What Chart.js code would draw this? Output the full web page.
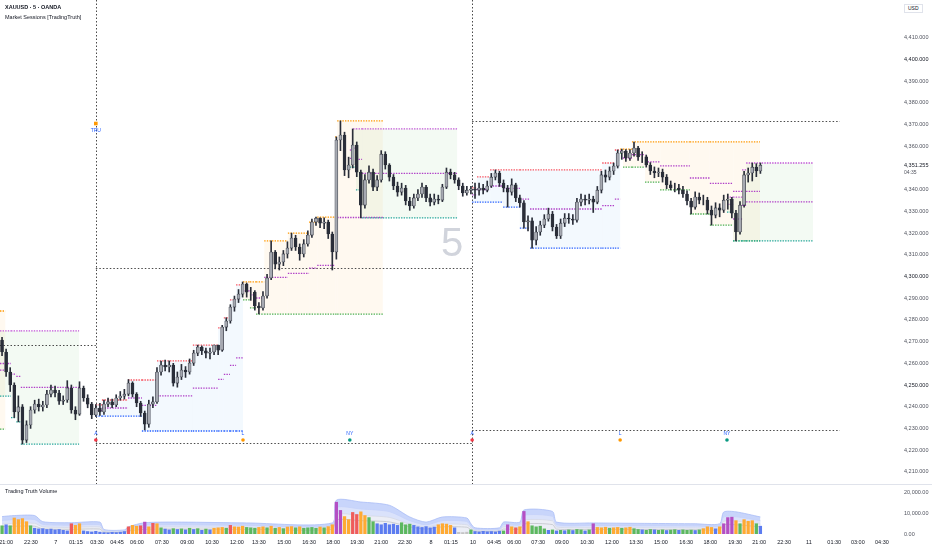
<!DOCTYPE html>
<html>
<head>
<meta charset="utf-8">
<script src="https://cdn.jsdelivr.net/npm/chart.js@4.4.1/dist/chart.umd.min.js"></script>
<style>
  html, body { margin: 0; padding: 0; background: #fff; }
  #wrap { position: relative; width: 932px; height: 550px; overflow: hidden; font-family: "Liberation Sans", "DejaVu Sans", sans-serif; }
  canvas { position: absolute; left: 0; }
  #price { top: 0; }
  #vol { top: 484px; }
  .txt { position: absolute; white-space: nowrap; color: #131722; line-height: 1; }
  #sep { position: absolute; left: 0; top: 484px; width: 932px; height: 1px; background: #e0e3eb; }
</style>
</head>
<body>
<div id="wrap">
  <canvas id="price" width="932" height="484"></canvas>
  <div id="sep"></div>
  <canvas id="vol" width="932" height="66"></canvas>
  <div class="txt" style="left:5px;top:5px;font-size:5.5px;font-weight:bold;">XAUUSD · 5 · OANDA</div>
  <div class="txt" style="left:5px;top:15px;font-size:5.5px;">Market Sessions [TradingTruth]</div>
  <div class="txt" style="left:5px;top:489px;font-size:5.5px;">Trading Truth Volume</div>
  <div class="txt" style="left:904px;top:4px;font-size:5px;padding:1px 3px;border:1px solid #e0e3eb;background:#fff;">USD</div>
  <div class="txt" style="left:441px;top:222px;font-size:40px;color:#d1d4dc;font-family:'Liberation Sans Narrow','Liberation Sans',sans-serif;">5</div>
</div>
<script>
// 15-minute bars, index 0 = first bar on the left edge
const firstOpen = 4270.7;
const closes = [
  4265.2, 4256.0, 4250.0, 4237.6, 4239.9, 4224.6, 4231.6, 4238.5, 4241.2, 4239.9,
  4240.8, 4245.8, 4247.7, 4246.3, 4242.6, 4243.1, 4248.6, 4238.5, 4236.6, 4248.6,
  4244.0, 4241.2, 4236.2, 4239.4, 4237.6, 4241.2, 4242.2, 4240.8, 4244.0, 4244.9,
  4245.8, 4250.9, 4245.8, 4241.7, 4237.1, 4232.0, 4241.2, 4242.2, 4256.0, 4259.2,
  4258.3, 4259.2, 4250.9, 4253.7, 4256.9, 4256.0, 4260.1, 4264.7, 4267.5, 4265.7,
  4264.7, 4265.2, 4268.4, 4266.1, 4276.7, 4279.5, 4285.9, 4289.6, 4291.9, 4296.5,
  4292.8, 4292.8, 4286.4, 4285.5, 4291.0, 4299.3, 4311.3, 4305.7, 4306.7, 4310.4,
  4313.1, 4317.7, 4313.6, 4310.4, 4315.0, 4319.1, 4325.1, 4326.9, 4324.6, 4325.1,
  4319.6, 4311.3, 4362.9, 4365.2, 4349.1, 4351.4, 4360.6, 4348.1, 4332.9, 4344.5,
  4348.1, 4341.2, 4344.5, 4356.4, 4351.4, 4345.8, 4341.7, 4338.9, 4340.8, 4334.8,
  4332.5, 4336.2, 4338.0, 4341.2, 4336.2, 4334.3, 4335.7, 4335.2, 4341.2, 4348.1,
  4346.8, 4344.5, 4341.7, 4338.5, 4339.8, 4340.3, 4339.8, 4340.8, 4339.8, 4341.7,
  4345.8, 4347.7, 4343.1, 4340.8, 4338.9, 4342.2, 4336.2, 4333.9, 4325.1, 4325.6,
  4316.8, 4320.5, 4323.7, 4326.5, 4328.8, 4322.8, 4318.7, 4324.6, 4326.9, 4326.5,
  4326.0, 4334.3, 4335.7, 4335.2, 4335.7, 4334.3, 4339.8, 4346.8, 4345.8, 4348.6,
  4350.9, 4356.9, 4357.8, 4354.6, 4356.9, 4359.2, 4355.1, 4355.1, 4351.4, 4348.6,
  4347.7, 4348.1, 4345.8, 4342.2, 4340.8, 4340.8, 4339.8, 4338.0, 4334.8, 4332.0,
  4336.6, 4335.2, 4335.2, 4330.6, 4328.3, 4331.6, 4330.6, 4335.2, 4335.7, 4329.2,
  4320.5, 4332.9, 4346.8, 4347.7, 4350.4, 4348.6, 4351.255
];
const highs = [
  4272.0, 4266.5, 4258.0, 4251.0, 4245.0, 4241.0, 4233.5, 4240.0, 4243.0, 4243.5,
  4242.5, 4247.5, 4250.0, 4249.5, 4247.5, 4245.0, 4252.0, 4250.0, 4240.0, 4251.5,
  4249.5, 4245.5, 4242.0, 4241.0, 4241.5, 4243.0, 4244.0, 4243.5, 4245.5, 4247.0,
  4248.0, 4252.5, 4251.5, 4246.5, 4242.5, 4238.0, 4243.0, 4244.5, 4258.0, 4261.0,
  4261.5, 4261.1, 4260.0, 4256.0, 4259.5, 4258.5, 4262.0, 4266.0, 4268.4, 4268.0,
  4267.0, 4267.0, 4268.4, 4268.4, 4277.5, 4281.0, 4287.0, 4291.0, 4294.0, 4297.5,
  4297.0, 4295.0, 4293.5, 4288.0, 4293.0, 4301.0, 4316.4, 4312.0, 4309.0, 4312.0,
  4316.0, 4320.0, 4319.0, 4315.0, 4317.0, 4321.0, 4326.5, 4327.4, 4327.0, 4327.0,
  4326.0, 4320.5, 4364.3, 4371.7, 4366.5, 4355.0, 4368.0, 4362.0, 4349.0, 4347.0,
  4351.0, 4349.5, 4346.5, 4358.0, 4357.5, 4352.0, 4347.0, 4343.5, 4343.0, 4342.0,
  4336.5, 4338.0, 4340.0, 4343.0, 4342.0, 4338.0, 4338.0, 4337.5, 4342.5, 4350.0,
  4349.5, 4348.0, 4345.5, 4343.0, 4341.5, 4341.5, 4343.0, 4343.0, 4342.5, 4344.0,
  4347.5, 4349.1, 4348.5, 4344.5, 4342.0, 4345.0, 4343.0, 4337.5, 4335.0, 4328.0,
  4327.0, 4323.0, 4325.5, 4328.5, 4331.5, 4330.0, 4324.0, 4326.5, 4329.0, 4329.0,
  4328.5, 4336.0, 4338.0, 4337.5, 4338.0, 4337.0, 4341.5, 4348.5, 4349.1, 4350.5,
  4352.3, 4358.3, 4358.7, 4358.5, 4358.5, 4362.0, 4360.0, 4357.5, 4356.0, 4352.5,
  4350.5, 4350.0, 4349.5, 4347.0, 4344.0, 4343.0, 4342.5, 4341.5, 4339.5, 4336.0,
  4339.0, 4338.5, 4337.5, 4336.5, 4332.5, 4334.0, 4333.5, 4337.5, 4338.0, 4336.5,
  4330.5, 4334.5, 4348.5, 4350.0, 4352.3, 4352.0, 4352.3
];
const lows = [
  4263.5, 4254.0, 4247.0, 4235.0, 4233.0, 4222.8, 4223.5, 4230.0, 4237.0, 4238.0,
  4238.0, 4239.5, 4244.5, 4244.5, 4241.0, 4241.0, 4242.0, 4237.0, 4234.0, 4236.0,
  4242.5, 4239.5, 4234.5, 4235.5, 4236.0, 4236.5, 4240.0, 4239.5, 4240.0, 4243.0,
  4243.5, 4245.0, 4244.5, 4240.0, 4235.5, 4229.3, 4230.5, 4239.5, 4241.5, 4254.5,
  4256.5, 4256.0, 4249.5, 4249.0, 4252.5, 4253.5, 4255.0, 4259.0, 4263.5, 4264.0,
  4262.5, 4262.0, 4264.0, 4264.0, 4265.5, 4275.0, 4278.5, 4284.0, 4288.0, 4290.5,
  4290.5, 4289.0, 4284.5, 4282.7, 4284.5, 4290.0, 4298.5, 4303.5, 4303.0, 4305.0,
  4308.5, 4312.0, 4312.0, 4307.5, 4309.0, 4314.0, 4318.0, 4323.5, 4322.5, 4322.0,
  4317.5, 4303.0, 4308.0, 4358.0, 4346.5, 4345.5, 4350.0, 4346.0, 4327.0, 4331.5,
  4343.0, 4339.5, 4339.5, 4343.5, 4349.5, 4344.0, 4340.0, 4337.0, 4337.5, 4333.0,
  4330.5, 4331.5, 4335.0, 4336.5, 4334.5, 4332.5, 4333.0, 4333.5, 4334.5, 4340.5,
  4345.0, 4343.0, 4340.0, 4337.0, 4337.5, 4338.0, 4336.0, 4337.5, 4338.0, 4339.0,
  4341.0, 4344.5, 4341.5, 4339.0, 4332.0, 4337.5, 4334.5, 4332.0, 4322.3, 4321.0,
  4313.1, 4314.5, 4319.0, 4322.5, 4325.5, 4321.0, 4317.5, 4317.5, 4323.0, 4324.5,
  4324.0, 4325.0, 4332.5, 4333.0, 4333.5, 4329.5, 4333.5, 4338.5, 4343.5, 4344.5,
  4347.0, 4350.0, 4354.0, 4353.0, 4353.5, 4355.5, 4353.5, 4352.5, 4350.4, 4347.0,
  4345.5, 4346.0, 4343.5, 4340.5, 4339.9, 4339.0, 4338.0, 4336.5, 4333.0, 4328.8,
  4331.0, 4333.5, 4333.0, 4328.8, 4323.7, 4327.0, 4327.5, 4329.5, 4331.0, 4327.0,
  4316.4, 4319.5, 4332.0, 4343.5, 4344.0, 4346.0, 4347.5
];
const opens = [firstOpen].concat(closes.slice(0, -1));

const volumes = [
  4000, 4500, 4000, 7800, 7000, 7500, 6000, 4000, 2800, 2500,
  2600, 2200, 2400, 2000, 2200, 1800, 1500, 5000, 4200, 5000,
  1500, 1200, 1000, 1300, 900, 700, 600, 800, 700, 900,
  1200, 3500, 4200, 3800, 4000, 5800, 3500, 5200, 5000, 3000,
  2400, 2000, 2600, 2200, 2500, 2000, 2800, 2200, 2600, 1800,
  2400, 2000, 2800, 3000, 3200, 2800, 4200, 3500, 3400, 3800,
  3200, 3000, 2800, 3200, 3500, 3000, 3800, 2800, 3200, 2600,
  3400, 3600, 3000, 3500, 2800, 3000, 3200, 2800, 3400, 3000,
  3600, 4500, 15500, 11500, 8500, 7000, 10500, 9500, 10800, 9000,
  8000, 6000, 5000, 4500, 5200, 4500, 4800, 4200, 5500, 4500,
  4800, 4200, 3500, 3200, 3600, 3000, 3400, 4500, 5000, 4800,
  4200, 3000, 800, 700, 900, 2000, 1200, 1000, 1300, 1100,
  1200, 1000, 1400, 1500, 4500, 3500, 3000, 3500, 11000, 6000,
  4000, 3500, 3800, 2500, 1800, 2000, 1500, 1800, 1600, 2000,
  1700, 2200, 2000, 1500, 2000, 5000, 3200, 3000, 3300, 2800,
  3000, 3200, 2800, 3000, 3300, 2600, 2200, 2000, 1800, 2200,
  2000, 1800, 2000, 1700, 1900, 2100, 1800, 2000, 1800, 1900,
  1700, 2000, 2600, 3500, 3200, 2500, 3500, 5000, 8000, 8200,
  6500, 5000, 7000, 6200, 6500, 5000, 3800
];
// per-bar volume class: b blue, g green, o orange, r red, p purple, s grey
const volLevels = ('gbgoo oogbb bbbbb bbroo bbbbb bbbbb broor porog bbgbg bgbgb ' +
  'gbooo grooo gggoo gogog oogog gggog ooppo orroo ggbbb bbbgg ' +
  'gbbbb bbooo obsss gbbbb bbbgp oropo ggggb gbgbg bggbg pooog ' +
  'oogoo ggbgg bggbg gbggg bgooo boppp ogooo gb').replace(/ /g, '');

// volume bands, sampled where they change
const bandSlots = [0, 3, 8, 10, 17, 24, 25, 30, 31, 35, 44, 60, 81, 82, 88, 95, 100, 104, 108, 114,
  115, 116, 122, 123, 127, 128, 135, 136, 145, 170, 176, 177, 180, 186];
const bandOuter = [8500, 9000, 9000, 6000, 5500, 5800, 2200, 2000, 3500, 5500, 5800, 5400, 5400, 16500, 15600, 14000, 8300, 5800, 8300, 7800,
  5000, 3000, 3000, 5800, 5800, 11700, 11000, 5800, 5400, 5000, 5000, 10700, 10800, 8300];
const bandMid = [6600, 7000, 7000, 4700, 4300, 4500, 1700, 1600, 2700, 4300, 4500, 4200, 4200, 12900, 12200, 10900, 6500, 4500, 6500, 6100,
  3900, 2300, 2300, 4500, 4500, 9100, 8600, 4500, 4200, 3900, 3900, 8300, 8400, 6500];
const bandInner = [4900, 5200, 5200, 3500, 3200, 3400, 1300, 1200, 2000, 3200, 3400, 3100, 3100, 9600, 9000, 8100, 4800, 3400, 4800, 4500,
  2900, 1700, 1700, 3400, 3400, 6800, 6400, 3400, 3100, 2900, 2900, 6200, 6300, 4800];
const volAvg = [3600, 3800, 3800, 2500, 2300, 2400, 900, 850, 1500, 2300, 2400, 2300, 2300, 6900, 6500, 5900, 3500, 2400, 3500, 3300,
  2100, 1300, 1300, 2400, 2400, 4900, 4600, 2400, 2300, 2100, 2100, 4500, 4500, 3500];

// session boxes: [fromSlot, toSlot, high, low, mid]
const londonRowsD6 = [[-0.5, 0.8, 4284.1, 4229.7, 4256.9]];
const nyRowsD6 = [
  [-0.5, 2.2, 4274.9, 4244.9, 4259.9], [2.2, 3.5, 4274.9, 4235.0, 4255.0],
  [3.5, 4.6, 4274.9, 4233.0, 4254.0], [4.6, 18.9, 4274.9, 4222.8, 4248.9]
];
const asiaRowsD7 = [
  [23.0, 24.5, 4240.8, 4235.7, 4238.3], [24.5, 30.9, 4243.1, 4235.7, 4239.4],
  [30.9, 34.3, 4252.3, 4235.7, 4244.0], [34.3, 38.0, 4252.3, 4228.8, 4240.6],
  [38.0, 46.8, 4261.1, 4228.8, 4245.0], [46.8, 53.0, 4268.4, 4228.8, 4248.6],
  [53.0, 54.4, 4276.3, 4228.8, 4252.6], [54.4, 55.9, 4280.9, 4228.8, 4254.9],
  [55.9, 57.4, 4289.2, 4228.8, 4259.0], [57.4, 59.1, 4296.1, 4228.8, 4262.5]
];
const londonRowsD7 = [
  [59.1, 60.8, 4297.5, 4289.2, 4293.4], [60.8, 62.3, 4297.5, 4285.5, 4291.5],
  [62.3, 64.3, 4297.5, 4282.7, 4290.1], [64.3, 70.1, 4316.4, 4282.7, 4299.6],
  [70.1, 75.3, 4320.0, 4282.7, 4301.4], [75.3, 77.3, 4325.1, 4282.7, 4303.9],
  [77.3, 81.7, 4327.4, 4282.7, 4305.1], [81.7, 82.2, 4364.3, 4282.7, 4323.5],
  [82.2, 93.4, 4371.7, 4282.7, 4327.2]
];
const nyRowsD7 = [
  [85.3, 86.1, 4358.3, 4350.4, 4354.4], [86.1, 86.8, 4368.0, 4350.4, 4359.2],
  [86.8, 88.3, 4368.0, 4339.9, 4354.0], [88.3, 111.6, 4368.0, 4327.0, 4347.5]
];
const asiaRowsD10 = [
  [115.3, 116.5, 4340.8, 4334.3, 4337.6], [116.5, 119.7, 4345.9, 4334.3, 4340.1],
  [119.7, 122.9, 4349.1, 4334.3, 4341.7], [122.9, 127.0, 4349.1, 4332.0, 4340.6],
  [127.0, 129.5, 4349.1, 4322.3, 4335.7], [129.5, 147.2, 4349.1, 4313.1, 4331.1],
  [147.2, 150.3, 4352.3, 4313.1, 4332.7], [150.3, 151.6, 4358.3, 4313.1, 4335.7]
];
const londonRowsD10 = [
  [151.6, 152.3, 4358.7, 4356.9, 4357.8], [152.3, 154.5, 4358.7, 4350.4, 4354.6],
  [154.5, 157.7, 4362.0, 4350.4, 4356.2], [157.7, 161.4, 4362.0, 4343.5, 4352.8],
  [161.4, 168.7, 4362.0, 4339.9, 4351.0], [168.7, 173.6, 4362.0, 4328.8, 4345.4],
  [173.6, 179.3, 4362.0, 4323.7, 4342.9], [179.3, 185.9, 4362.0, 4316.4, 4339.2]
];
const nyRowsD10 = [
  [177.8, 179.3, 4336.6, 4329.7, 4333.2], [179.3, 181.5, 4336.6, 4316.4, 4326.5],
  [181.5, 182.5, 4349.1, 4316.4, 4332.8], [182.5, 198.9, 4352.3, 4316.4, 4334.4]
];

// previous day high / low: [fromSlot, toSlot, price]
const prevDayLines = [
  [-0.5, 23.0, 4268.4], [23.0, 115.3, 4303.9], [23.0, 115.3, 4223.3],
  [115.3, 205.5, 4371.7], [115.3, 205.5, 4229.3]
];
const dayBreaks = [23.0, 115.3];
const markSlots = [23.0, 59.1, 85.3, 115.3, 151.6, 177.8];
const markTexts = ['A', 'L', 'NY', 'A', 'L', 'NY'];
const markKinds = ['asia', 'london', 'ny', 'asia', 'london', 'ny'];

const priceTicks = [4210, 4220, 4230, 4240, 4250, 4260, 4270, 4280, 4290, 4300,
  4310, 4320, 4330, 4340, 4360, 4370, 4380, 4390, 4400, 4410];
const volTicks = [0, 10000, 20000];
const timeSlots = [1.0, 7.1, 13.2, 18.1, 23.3, 28.2, 33.1, 39.2, 45.4, 51.5, 57.6, 63.0, 69.2, 75.3, 81.2, 87.1, 93.0,
  98.8, 105.2, 110.1, 115.5, 120.7, 125.6, 131.5, 137.3, 143.5, 149.6, 155.5, 161.6, 167.8, 173.7, 179.8, 185.7,
  191.8, 197.9, 204.1, 209.9, 215.8];
const timeLabels = ['21:00', '22:30', '7', '01:15', '03:30', '04:45', '06:00', '07:30', '09:00', '10:30', '12:00',
  '13:30', '15:00', '16:30', '18:00', '19:30', '21:00', '22:30', '8', '01:15', '10', '04:45', '06:00', '07:30',
  '09:00', '10:30', '12:00', '13:30', '15:00', '16:30', '18:00', '19:30', '21:00', '22:30', '11', '01:30',
  '03:00', '04:30'];

//styles
const FONT = '"Liberation Sans", "DejaVu Sans", sans-serif';
const sessionStyle = {
  asia:   { fill: 'rgba(33,150,243,0.055)', hi: '#f7525f', lo: '#2962ff', mid: '#b03fc7', dot: '#f23645' },
  london: { fill: 'rgba(255,152,0,0.06)',   hi: '#ff9800', lo: '#4caf50', mid: '#b03fc7', dot: '#ff9800' },
  ny:     { fill: 'rgba(76,175,80,0.065)',  hi: '#c155d6', lo: '#26a69a', mid: '#b03fc7', dot: '#089981' }
};
const sessions = [
  { kind: 'london', rows: londonRowsD6 }, { kind: 'ny', rows: nyRowsD6 },
  { kind: 'asia', rows: asiaRowsD7 }, { kind: 'london', rows: londonRowsD7 }, { kind: 'ny', rows: nyRowsD7 },
  { kind: 'asia', rows: asiaRowsD10 }, { kind: 'london', rows: londonRowsD10 }, { kind: 'ny', rows: nyRowsD10 }
];
const volColor = { b: '#5c7cf0', g: '#5cb85f', o: '#ffaa33', r: '#ef5b5b', p: '#b44fc4', s: '#c4c4c4' };

function fmt(v, d) {
  return v.toLocaleString('en-US', { minimumFractionDigits: d, maximumFractionDigits: d });
}
// keep tick labels from shrinking the plot area
function noPad(s) {
  s.paddingTop = 0; s.paddingBottom = 0; s.paddingLeft = 0; s.paddingRight = 0;
}

const sessionPlugin = {
  id: 'sessionPlugin',
  beforeDatasetsDraw(chart) {
    const { ctx, chartArea: a, scales: { x, y } } = chart;
    ctx.save();
    ctx.beginPath();
    ctx.rect(a.left, a.top, a.right - a.left, a.bottom - a.top);
    ctx.clip();
    sessions.forEach(s => {
      ctx.fillStyle = sessionStyle[s.kind].fill;
      s.rows.forEach(r => {
        const x0 = x.getPixelForValue(r[0]), x1 = x.getPixelForValue(r[1]);
        const y0 = y.getPixelForValue(r[2]), y1 = y.getPixelForValue(r[3]);
        ctx.fillRect(x0, y0, x1 - x0, y1 - y0);
      });
    });
    // previous day levels and day breaks
    ctx.strokeStyle = '#4a4a4a';
    ctx.lineWidth = 1;
    ctx.setLineDash([1.5, 2]);
    prevDayLines.forEach(l => {
      const yy = Math.round(y.getPixelForValue(l[2])) + 0.5;
      ctx.beginPath();
      ctx.moveTo(x.getPixelForValue(l[0]), yy);
      ctx.lineTo(x.getPixelForValue(l[1]), yy);
      ctx.stroke();
    });
    dayBreaks.forEach(d => {
      const xx = Math.round(x.getPixelForValue(d)) + 0.5;
      ctx.beginPath();
      ctx.moveTo(xx, a.top);
      ctx.lineTo(xx, a.bottom);
      ctx.stroke();
    });
    // session high / low / mid steps
    ctx.lineWidth = 1.3;
    ctx.setLineDash([1.4, 1.2]);
    sessions.forEach(s => {
      const st = sessionStyle[s.kind];
      s.rows.forEach(r => {
        const x0 = x.getPixelForValue(r[0]), x1 = x.getPixelForValue(r[1]);
        [[r[4], st.mid], [r[2], st.hi], [r[3], st.lo]].forEach(([p, c]) => {
          const yy = y.getPixelForValue(p);
          ctx.strokeStyle = c;
          ctx.beginPath();
          ctx.moveTo(x0, yy);
          ctx.lineTo(x1, yy);
          ctx.stroke();
        });
      });
    });
    ctx.restore();
  },
  afterDatasetsDraw(chart) {
    const { ctx, chartArea: a, scales: { x, y } } = chart;
    ctx.save();
    ctx.textAlign = 'center';
    ctx.textBaseline = 'middle';
    ctx.font = '5px ' + FONT;
    markSlots.forEach((s, i) => {
      const xx = x.getPixelForValue(s);
      ctx.fillStyle = '#2962ff';
      ctx.fillText(markTexts[i], xx, a.bottom - 50);
      ctx.fillStyle = sessionStyle[markKinds[i]].dot;
      ctx.beginPath();
      ctx.arc(xx, a.bottom - 44, 1.8, 0, Math.PI * 2);
      ctx.fill();
    });
    // "TRU" flag on the first day break
    const tx = x.getPixelForValue(dayBreaks[0]);
    ctx.fillStyle = '#ff9800';
    ctx.fillRect(tx - 1.8, y.getPixelForValue(4370.5) - 1.8, 3.6, 3.6);
    ctx.fillStyle = '#2962ff';
    ctx.fillText('TRU', tx, y.getPixelForValue(4367.2));
    // last price on the axis
    const last = closes[closes.length - 1];
    const ly = y.getPixelForValue(last);
    ctx.textAlign = 'left';
    ctx.fillStyle = '#131722';
    ctx.font = '5.5px ' + FONT;
    ctx.fillText(fmt(last, 3), a.right + 7, ly);
    ctx.font = '5px ' + FONT;
    ctx.fillStyle = '#50535e';
    ctx.fillText('04:35', a.right + 7, ly + 7);
    ctx.restore();
  }
};

Chart.defaults.font.family = FONT;
Chart.defaults.font.size = 5.5;
Chart.defaults.color = '#131722';

const candleIdx = closes.map((c, i) => i);
new Chart(document.getElementById('price'), {
  type: 'bar',
  data: {
    datasets: [
      {
        label: 'body',
        data: candleIdx.map(i => ({ x: i, y: [opens[i], closes[i]] })),
        backgroundColor: candleIdx.map(i => closes[i] >= opens[i] ? '#a6a9b1' : '#2a2e39'),
        borderColor: '#2a2e39',
        borderWidth: 0.6,
        borderSkipped: false,
        barThickness: 3,
        grouped: false,
        order: 0
      },
      {
        label: 'wick',
        data: candleIdx.map(i => ({ x: i, y: [lows[i], highs[i]] })),
        backgroundColor: '#2a2e39',
        barThickness: 1,
        grouped: false,
        order: 1
      }
    ]
  },
  options: {
    responsive: false,
    animation: false,
    layout: { padding: 0 },
    plugins: { legend: { display: false }, tooltip: { enabled: false } },
    scales: {
      x: { type: 'linear', min: -0.5, max: 219.5, offset: false, display: false, grid: { offset: false } },
      y: {
        position: 'right',
        min: 4204.38,
        max: 4427.42,
        grid: { display: false, drawTicks: false },
        border: { display: false },
        afterFit(s) { s.width = 35; noPad(s); },
        afterBuildTicks(s) { s.ticks = priceTicks.map(v => ({ value: v })); },
        ticks: {
          padding: 7,
          autoSkip: false,
          color: c => ([4400, 4300, 4250].includes(c.tick.value) ? '#131722' : '#50535e'),
          callback: v => fmt(v, 3)
        }
      }
    }
  },
  plugins: [sessionPlugin]
});

const bandDs = (vals, fillColor, line, order) => ({
  type: 'line',
  data: bandSlots.map((s, i) => ({ x: s, y: vals[i] })),
  borderColor: line,
  borderWidth: 0.8,
  backgroundColor: fillColor,
  fill: fillColor ? 'origin' : false,
  pointRadius: 0,
  tension: 0.25,
  order: order
});

new Chart(document.getElementById('vol'), {
  type: 'bar',
  data: {
    datasets: [
      {
        label: 'volume',
        data: volumes.map((v, i) => ({ x: i, y: v })),
        backgroundColor: volumes.map((v, i) => volColor[volLevels[i]]),
        barThickness: 2.6,
        grouped: false,
        order: 0
      },
      bandDs(volAvg, null, '#c2c4ca', 1),
      bandDs(bandInner, '#eceef6', '#d5d9e6', 2),
      bandDs(bandMid, '#dae2fb', '#c5d2fa', 3),
      bandDs(bandOuter, '#c8d5fb', '#a9bcf6', 4)
    ]
  },
  options: {
    responsive: false,
    animation: false,
    layout: { padding: { top: 2, left: 0, right: 0, bottom: 0 } },
    plugins: { legend: { display: false }, tooltip: { enabled: false } },
    scales: {
      x: {
        type: 'linear',
        min: -0.5,
        max: 219.5,
        offset: false,
        grid: { display: false, drawTicks: false, offset: false },
        border: { display: false },
        afterFit(s) { s.height = 16; noPad(s); },
        afterBuildTicks(s) { s.ticks = timeSlots.map(v => ({ value: v })); },
        ticks: {
          padding: 5,
          autoSkip: false,
          maxRotation: 0,
          color: '#131722',
          callback: (v, i) => timeLabels[i]
        }
      },
      y: {
        position: 'right',
        min: 0,
        max: 23400,
        grid: { display: false, drawTicks: false },
        border: { display: false },
        afterFit(s) { s.width = 35; noPad(s); },
        afterBuildTicks(s) { s.ticks = volTicks.map(v => ({ value: v })); },
        ticks: { padding: 7, color: '#50535e', callback: v => fmt(v, 2) }
      }
    }
  }
});
</script>
</body>
</html>
